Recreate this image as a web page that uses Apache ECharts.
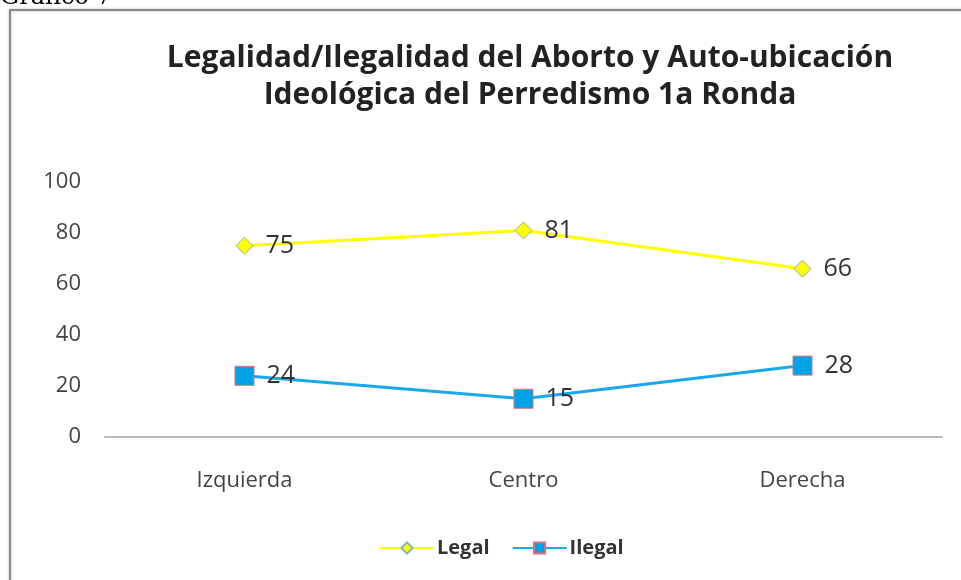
<!DOCTYPE html>
<html><head><meta charset="utf-8">
<script src="https://cdn.jsdelivr.net/npm/echarts@6/dist/echarts.min.js"></script>
<style>html,body{margin:0;padding:0;background:#fff}#c{width:961px;height:580px}</style>
</head><body><div id="c"></div>
<script>
const categories = ['Izquierda', 'Centro', 'Derecha'];
const legalValues = [75, 81, 66];
const ilegalValues = [24, 15, 28];
const yTicks = [0, 20, 40, 60, 80, 100];

const chart = echarts.init(document.getElementById('c'), null, {renderer: 'canvas'});
const font = '"Open Sans", "Noto Sans", sans-serif';
chart.setOption({
  backgroundColor: '#fff',
  animation: false,
  title: {
    text: 'Legalidad/Ilegalidad del Aborto y Auto-ubicación\nIdeológica del Perredismo 1a Ronda',
    left: 525, top: 35, textAlign: 'center',
    textStyle: {fontFamily: font, fontSize: 30, fontWeight: 'bold', color: '#222', lineHeight: 37}
  },
  graphic: [
    {type: 'rect', shape: {x: 10, y: 10, width: 1000, height: 620}, style: {fill: 'none', stroke: '#8a8a8a', lineWidth: 2, shadowBlur: 3, shadowColor: 'rgba(0,0,0,0.3)'}},
    {type: 'text', left: 0, top: -14, style: {text: 'Gráfico 7', font: '24px "DejaVu Serif", "Liberation Serif", serif', fill: '#000'}}
  ],
  legend: {
    bottom: 17, left: 374, itemGap: 22, itemWidth: 54, itemHeight: 14,
    textStyle: {fontFamily: font, fontSize: 20, fontWeight: 'bold', color: '#333', padding: [0, 0, 0, -2]},
    data: [{name: 'Legal'}, {name: 'Ilegal'}]
  },
  grid: {left: 105, right: 19, top: 182, bottom: 143},
  xAxis: {
    type: 'category', data: categories, boundaryGap: true,
    axisLine: {lineStyle: {color: '#bbb', width: 2}},
    axisTick: {show: false},
    axisLabel: {fontFamily: font, fontSize: 22, color: '#444', margin: 33}
  },
  yAxis: {
    type: 'value', min: 0, max: 100, interval: 20,
    axisLine: {show: false}, axisTick: {show: false},
    splitLine: {show: false},
    axisLabel: {fontFamily: font, fontSize: 22, color: '#444', margin: 24,
      formatter: v => yTicks.includes(v) ? String(v) : ''}
  },
  series: [
    {name: 'Legal', type: 'line', data: legalValues,
      symbol: 'diamond', symbolSize: 17,
      lineStyle: {color: '#ffff00', width: 3},
      itemStyle: {color: '#ffff00', borderColor: '#8ab0b8', borderWidth: 1},
      label: {show: true, position: 'right', distance: 12, fontFamily: font, fontSize: 25, color: '#333'}
    },
    {name: 'Ilegal', type: 'line', data: ilegalValues,
      symbol: 'rect', symbolSize: 19,
      lineStyle: {color: '#1aa7ec', width: 3},
      itemStyle: {color: '#00a2e8', borderColor: '#e07070', borderWidth: 1},
      label: {show: true, position: 'right', distance: 12, fontFamily: font, fontSize: 25, color: '#333'}
    }
  ]
});
</script></body></html>
